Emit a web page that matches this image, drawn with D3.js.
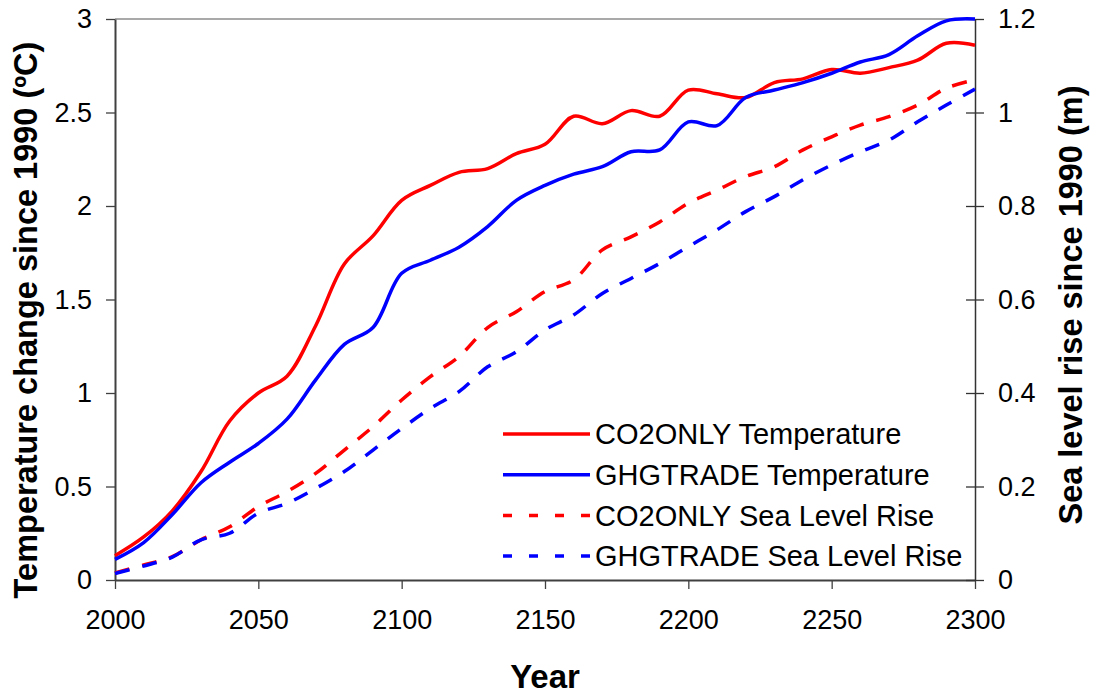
<!DOCTYPE html>
<html>
<head>
<meta charset="utf-8">
<script src="https://cdn.jsdelivr.net/npm/d3@7/dist/d3.min.js"></script>
<style>
  html, body { margin: 0; padding: 0; background: #fff; }
  svg { display: block; font-family: Arial, "Liberation Sans", sans-serif; }
</style>
</head>
<body>
<svg id="chart" width="1093" height="696"></svg>
<script>
// Years sampled every decade
const years = [2000, 2010, 2020, 2030, 2040, 2050, 2060, 2070, 2080, 2090,
               2100, 2110, 2120, 2130, 2140, 2150, 2160, 2170, 2180, 2190,
               2200, 2210, 2220, 2230, 2240, 2250, 2260, 2270, 2280, 2290, 2300];

// Global mean temperature change since 1990 (°C)
const co2onlyTemp = [0.13, 0.23, 0.37, 0.58, 0.85, 1.00, 1.09, 1.36, 1.69, 1.84,
                     2.03, 2.11, 2.18, 2.20, 2.28, 2.33, 2.48, 2.44, 2.51, 2.48,
                     2.62, 2.60, 2.58, 2.66, 2.68, 2.73, 2.71, 2.74, 2.78, 2.87, 2.86];
const ghgtradeTemp = [0.11, 0.20, 0.35, 0.52, 0.63, 0.73, 0.86, 1.07, 1.26, 1.35,
                      1.64, 1.71, 1.78, 1.89, 2.03, 2.11, 2.17, 2.21, 2.29, 2.30,
                      2.45, 2.43, 2.58, 2.62, 2.66, 2.71, 2.77, 2.81, 2.91, 2.99, 3.00];

// Sea level rise since 1990 (m)
const co2onlySea = [0.015, 0.032, 0.050, 0.086, 0.114, 0.157, 0.189, 0.228, 0.278, 0.328,
                    0.385, 0.435, 0.478, 0.540, 0.574, 0.617, 0.642, 0.706, 0.734, 0.766,
                    0.806, 0.834, 0.863, 0.884, 0.920, 0.948, 0.973, 0.991, 1.016, 1.052, 1.070];
const ghgtradeSea = [0.014, 0.030, 0.049, 0.086, 0.100, 0.143, 0.164, 0.196, 0.232, 0.278,
                     0.324, 0.367, 0.403, 0.456, 0.488, 0.535, 0.567, 0.613, 0.645, 0.677,
                     0.713, 0.749, 0.788, 0.820, 0.856, 0.888, 0.916, 0.941, 0.980, 1.016, 1.050];

const xTicks = [2000, 2050, 2100, 2150, 2200, 2250, 2300];
const yLeftTicks = [0, 0.5, 1, 1.5, 2, 2.5, 3];
const yRightTicks = [0, 0.2, 0.4, 0.6, 0.8, 1, 1.2];

const seriesNames = ["CO2ONLY Temperature", "GHGTRADE Temperature",
                     "CO2ONLY Sea Level Rise", "GHGTRADE Sea Level Rise"];

const svg = d3.select("#chart");
const plot = { left: 115, right: 975, top: 19, bottom: 580 };

const x = d3.scaleLinear().domain([2000, 2300]).range([plot.left, plot.right]);
const yL = d3.scaleLinear().domain([0, 3]).range([plot.bottom, plot.top]);
const yR = d3.scaleLinear().domain([0, 1.2]).range([plot.bottom, plot.top]);

const RED = "#ff0000", BLUE = "#0000ff";
const FONT = "Arial, 'Liberation Sans', sans-serif";

// Frame: light top edge, dark axes on the other sides
svg.append("line")
  .attr("x1", plot.left).attr("x2", plot.right)
  .attr("y1", plot.top).attr("y2", plot.top)
  .attr("stroke", "#8c8c8c").attr("stroke-width", 1.5);

const fontTick = "27px";

// Bottom axis
const xAxis = svg.append("g")
  .attr("transform", `translate(0,${plot.bottom})`)
  .call(d3.axisBottom(x).tickValues(xTicks).tickFormat(d3.format("d"))
        .tickSizeInner(9).tickSizeOuter(0).tickPadding(21));
xAxis.select(".domain").attr("stroke", "#404040").attr("stroke-width", 2);
xAxis.selectAll(".tick line").attr("stroke", "#404040").attr("stroke-width", 1.3);
xAxis.selectAll("text").attr("font-size", fontTick).attr("fill", "#000").attr("font-family", FONT);

// Left axis
const yAxisL = svg.append("g")
  .attr("transform", `translate(${plot.left},0)`)
  .call(d3.axisLeft(yL).tickValues(yLeftTicks).tickFormat(d => String(d))
        .tickSizeInner(9).tickSizeOuter(0).tickPadding(14));
yAxisL.select(".domain").attr("stroke", "#404040").attr("stroke-width", 2);
yAxisL.selectAll(".tick line").attr("stroke", "#404040").attr("stroke-width", 1.3);
yAxisL.selectAll("text").attr("font-size", fontTick).attr("fill", "#000").attr("font-family", FONT);

// Right axis with ticks crossing the axis line
const yAxisR = svg.append("g")
  .attr("transform", `translate(${plot.right},0)`)
  .call(d3.axisRight(yR).tickValues(yRightTicks).tickFormat(d => String(d))
        .tickSizeInner(9).tickSizeOuter(0).tickPadding(14));
yAxisR.select(".domain").attr("stroke", "#333").attr("stroke-width", 1.5);
yAxisR.selectAll(".tick line").attr("x1", -9).attr("stroke", "#333").attr("stroke-width", 1.3);
yAxisR.selectAll("text").attr("font-size", fontTick).attr("fill", "#000").attr("font-family", FONT);

// Axis titles
svg.append("text")
  .attr("transform", "translate(37,320) rotate(-90)")
  .attr("text-anchor", "middle")
  .attr("font-size", "32.5px").attr("font-weight", "bold")
  .text("Temperature change since 1990 (ºC)");

svg.append("text")
  .attr("transform", "translate(1082,305) rotate(-90)")
  .attr("text-anchor", "middle")
  .attr("font-size", "32.5px").attr("font-weight", "bold")
  .text("Sea level rise since 1990 (m)");

svg.append("text")
  .attr("x", (plot.left + plot.right) / 2).attr("y", 688)
  .attr("text-anchor", "middle")
  .attr("font-size", "33px").attr("font-weight", "bold")
  .text("Year");

// Series lines
const lineL = d3.line().x((d, i) => x(years[i])).y(d => yL(d)).curve(d3.curveCatmullRom.alpha(0.5));
const lineR = d3.line().x((d, i) => x(years[i])).y(d => yR(d)).curve(d3.curveCatmullRom.alpha(0.5));

const series = [
  { name: seriesNames[0], values: co2onlyTemp, gen: lineL, color: RED,  dash: null },
  { name: seriesNames[1], values: ghgtradeTemp, gen: lineL, color: BLUE, dash: null },
  { name: seriesNames[2], values: co2onlySea,  gen: lineR, color: RED,  dash: "15,13" },
  { name: seriesNames[3], values: ghgtradeSea, gen: lineR, color: BLUE, dash: "15,13" }
];

svg.append("g").selectAll("path")
  .data(series)
  .join("path")
  .attr("d", s => s.gen(s.values))
  .attr("fill", "none")
  .attr("stroke", s => s.color)
  .attr("stroke-width", 3.5)
  .attr("stroke-linejoin", "round")
  .attr("stroke-dasharray", s => s.dash);

// Legend
const legend = svg.append("g").attr("transform", "translate(503,434)");
const rowGap = 40.7;
const legRows = legend.selectAll("g")
  .data(series)
  .join("g")
  .attr("transform", (d, i) => `translate(0,${i * rowGap})`);

legRows.append("line")
  .attr("x1", 0).attr("x2", 87).attr("y1", 0).attr("y2", 0)
  .attr("stroke", d => d.color)
  .attr("stroke-width", 3.5)
  .attr("stroke-dasharray", d => d.dash ? "9,17" : null);

legRows.append("text")
  .attr("x", 92).attr("y", 0)
  .attr("dy", "0.35em")
  .attr("font-size", "29px")
  .attr("fill", "#000")
  .text(d => d.name);
</script>
</body>
</html>
